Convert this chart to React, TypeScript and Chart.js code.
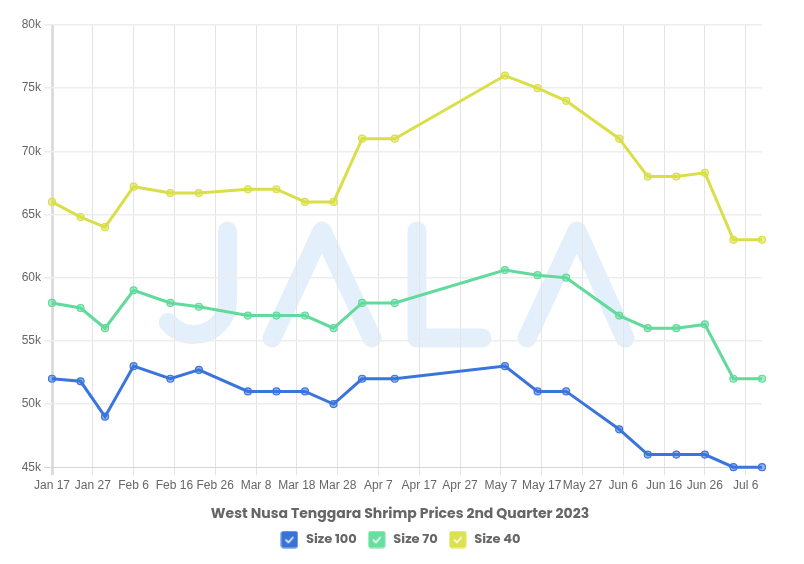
import React, { useEffect, useRef } from 'react';
import { Chart, registerables } from 'chart.js';

Chart.register(...registerables);

// ---------- DATA ----------
const baseDate = '2023-01-17';
const priceDates = [
  '2023-01-17', '2023-01-24', '2023-01-30', '2023-02-06', '2023-02-15', '2023-02-22',
  '2023-03-06', '2023-03-13', '2023-03-20', '2023-03-27', '2023-04-03', '2023-04-11',
  '2023-05-08', '2023-05-16', '2023-05-23', '2023-06-05', '2023-06-12', '2023-06-19',
  '2023-06-26', '2023-07-03', '2023-07-10',
];
const size100 = [52000, 51800, 49000, 53000, 52000, 52700, 51000, 51000, 51000, 50000, 52000, 52000, 53000, 51000, 51000, 48000, 46000, 46000, 46000, 45000, 45000];
const size70 = [58000, 57600, 56000, 59000, 58000, 57700, 57000, 57000, 57000, 56000, 58000, 58000, 60600, 60200, 60000, 57000, 56000, 56000, 56300, 52000, 52000];
const size40 = [66000, 64800, 64000, 67200, 66700, 66700, 67000, 67000, 66000, 66000, 71000, 71000, 76000, 75000, 74000, 71000, 68000, 68000, 68300, 63000, 63000];
const seriesNames = ['Size 100', 'Size 70', 'Size 40'];
const tickDates = [
  '2023-01-17', '2023-01-27', '2023-02-06', '2023-02-16', '2023-02-26', '2023-03-08',
  '2023-03-18', '2023-03-28', '2023-04-07', '2023-04-17', '2023-04-27', '2023-05-07',
  '2023-05-17', '2023-05-27', '2023-06-06', '2023-06-16', '2023-06-26', '2023-07-06',
];
const tickLabels = [
  'Jan 17', 'Jan 27', 'Feb 6', 'Feb 16', 'Feb 26', 'Mar 8', 'Mar 18', 'Mar 28', 'Apr 7',
  'Apr 17', 'Apr 27', 'May 7', 'May 17', 'May 27', 'Jun 6', 'Jun 16', 'Jun 26', 'Jul 6',
];
const yMin = 45000;
const yMax = 80000;
const yStep = 5000;
const chartTitle = 'West Nusa Tenggara Shrimp Prices 2nd Quarter 2023';

// ---------- STYLE ----------
const seriesColors = ['#3a74dc', '#62da9c', '#d9df48'];
const legendColors = ['#3874d8', '#68de9f', '#dbe14f'];
const uiFont = 'Poppins, "Open Sans", "Noto Sans", sans-serif';

const dayOf = (d: string) => Math.round((Date.parse(d) - Date.parse(baseDate)) / 86400000);
const priceDays = priceDates.map(dayOf);
const tickDays = tickDates.map(dayOf);

function makeCheckBox(color: string): HTMLCanvasElement {
  const c = document.createElement('canvas');
  c.width = 18;
  c.height = 18;
  const g = c.getContext('2d')!;
  g.fillStyle = color;
  g.beginPath();
  (g as any).roundRect(0.5, 0.5, 17, 17, 2.5);
  g.fill();
  g.strokeStyle = '#ffffff';
  g.lineWidth = 1.5;
  g.lineCap = 'round';
  g.lineJoin = 'round';
  g.beginPath();
  g.moveTo(5.5, 9.5);
  g.lineTo(8, 12);
  g.lineTo(12.5, 7);
  g.stroke();
  return c;
}

const watermarkPlugin = {
  id: 'jalaWatermark',
  beforeDraw(chart: any) {
    const ctx = chart.ctx as CanvasRenderingContext2D;
    ctx.save();
    ctx.strokeStyle = '#e3f0fc';
    ctx.lineWidth = 19;
    ctx.lineCap = 'round';
    ctx.lineJoin = 'round';
    // J
    ctx.beginPath();
    ctx.moveTo(227.5, 231);
    ctx.lineTo(227.5, 301);
    ctx.arc(194, 301, 33.5, 0, 2.45, false);
    ctx.stroke();
    // A
    ctx.beginPath();
    ctx.moveTo(272, 338);
    ctx.lineTo(322, 231);
    ctx.lineTo(372, 338);
    ctx.stroke();
    // L
    ctx.beginPath();
    ctx.moveTo(417, 231);
    ctx.lineTo(417, 338);
    ctx.lineTo(482, 338);
    ctx.stroke();
    // A
    ctx.beginPath();
    ctx.moveTo(527, 338);
    ctx.lineTo(577, 231);
    ctx.lineTo(625, 338);
    ctx.stroke();
    ctx.restore();
  },
};

export default function App() {
  const ref = useRef<HTMLCanvasElement | null>(null);

  useEffect(() => {
    document.body.style.margin = '0';
    const canvas = ref.current;
    if (!canvas) return;
    const series = [size100, size70, size40];
    const boxes = legendColors.map(makeCheckBox);
    const chart = new Chart(canvas, {
      type: 'line',
      data: {
        datasets: series.map((vals, i) => ({
          label: seriesNames[i],
          data: vals.map((v, j) => ({ x: priceDays[j], y: v })),
          borderColor: seriesColors[i],
          backgroundColor: seriesColors[i] + '99',
          pointBorderColor: seriesColors[i],
          pointBackgroundColor: seriesColors[i] + '88',
          borderWidth: 3,
          pointRadius: 3.5,
          pointBorderWidth: 1.2,
          tension: 0,
          clip: false,
        })),
      },
      options: {
        responsive: false,
        animation: false,
        layout: { padding: { left: 8, right: 12, top: 25, bottom: 8 } },
        scales: {
          x: {
            type: 'linear',
            min: 0,
            max: priceDays[priceDays.length - 1],
            afterBuildTicks: (axis: any) => {
              axis.ticks = tickDays.map((v) => ({ value: v }));
            },
            afterFit: (axis: any) => {
              axis.height = 29;
              axis.paddingRight = 42;
            },
            ticks: {
              color: '#666',
              font: { size: 12 },
              autoSkip: false,
              maxRotation: 0,
              callback: (v: any) => {
                const k = tickDays.indexOf(Number(v));
                return k >= 0 ? tickLabels[k] : '';
              },
            },
            grid: {
              color: (c: any) => (c.index === 0 ? '#dddddd' : '#e4e4e4'),
              lineWidth: (c: any) => (c.index === 0 ? 3 : 1),
            },
            border: { display: false },
          },
          y: {
            min: yMin,
            max: yMax,
            afterFit: (axis: any) => {
              axis.width = 44;
            },
            ticks: {
              stepSize: yStep,
              color: '#666',
              font: { size: 12 },
              callback: (v: any) => Number(v) / 1000 + 'k',
            },
            grid: {
              color: (c: any) => (c.index === 0 ? '#d4d4d4' : '#ededed'),
              lineWidth: (c: any) => (c.index === 0 ? 1 : 1.5),
            },
            border: { display: false },
          },
        },
        plugins: {
          title: {
            display: true,
            text: chartTitle,
            position: 'bottom',
            weight: 500,
            color: '#666',
            font: { family: uiFont, size: 14, weight: 'bold' },
            padding: { top: 10, bottom: 0 },
          } as any,
          legend: {
            position: 'bottom',
            labels: {
              usePointStyle: true,
              pointStyleWidth: 20,
              color: '#666',
              font: { family: uiFont, size: 13, weight: 'bold' },
              padding: 10,
              generateLabels: (ch: any) => {
                const items = (Chart.defaults.plugins.legend.labels as any).generateLabels(ch);
                return items.map((it: any, i: number) => ({ ...it, pointStyle: boxes[i] }));
              },
            },
          },
          tooltip: { enabled: false },
        },
      },
      plugins: [watermarkPlugin],
    } as any);
    return () => chart.destroy();
  }, []);

  return (
    <div style={{ position: 'absolute', left: 0, top: 0, width: 804, height: 564, background: '#fff' }}>
      <canvas ref={ref} width={804} height={564} />
    </div>
  );
}
